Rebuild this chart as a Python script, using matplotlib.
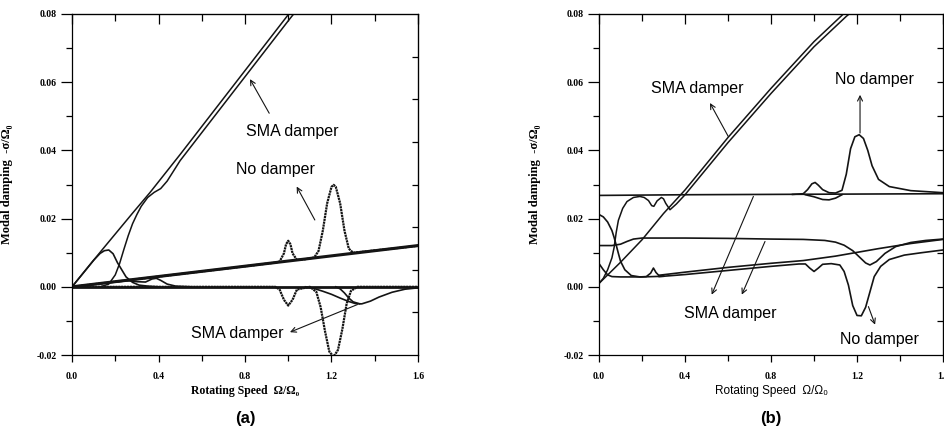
import numpy as np
import matplotlib.pyplot as plt
from matplotlib.ticker import MultipleLocator, FixedLocator

# ---- (a) : amortissement modal, rotor simple ----
a_sma1_x = [0, 0.14, 0.28, 0.36, 0.5, 0.7, 0.9, 1.0, 1.05]
a_sma1_y = [0, 0.0109, 0.0216, 0.0276, 0.0388, 0.0552, 0.0716, 0.0798, 0.0838]

a_sma2_x = [0.13, 0.17, 0.20, 0.22, 0.24, 0.26, 0.28, 0.30, 0.32, 0.35, 0.38, 0.41,
            0.44, 0.47, 0.5, 0.7, 0.9, 1.0, 1.06]
a_sma2_y = [0, 0.0008, 0.0035, 0.0068, 0.0110, 0.0150, 0.0185, 0.0212, 0.0236, 0.0262,
            0.0277, 0.0288, 0.0310, 0.0340, 0.0370, 0.0534, 0.0698, 0.0780, 0.0828]

a_hump_x = [0, 0.05, 0.10, 0.13, 0.15, 0.17, 0.19, 0.21, 0.23, 0.25, 0.28, 0.31, 0.35, 0.40]
a_hump_y = [0, 0.0039, 0.0078, 0.0098, 0.0106, 0.0108, 0.0097, 0.0071, 0.0050, 0.0029,
            0.0013, 0.0005, 0.0002, 0]

a_nod_x = [0, 0.4, 0.8, 0.94, 0.96, 0.98, 0.99, 1.0, 1.01, 1.02, 1.04, 1.08, 1.12, 1.14,
           1.16, 1.18, 1.20, 1.21, 1.22, 1.24, 1.26, 1.28, 1.30, 1.6]
a_nod_y = [0, 0.0030, 0.0060, 0.0071, 0.0074, 0.0098, 0.0125, 0.0135, 0.0125, 0.0098,
           0.0079, 0.0081, 0.0086, 0.0105, 0.0165, 0.0245, 0.0293, 0.0299, 0.0293, 0.0245,
           0.0165, 0.0112, 0.0100, 0.0120]

a_rise_x = [0, 1.6]
a_rise_y = [0, 0.0121]

a_base_x = [0, 1.6]
a_base_y = [0, 0]

a_dip_x = [0, 0.94, 0.96, 0.98, 1.0, 1.02, 1.04, 1.1, 1.13, 1.15, 1.17, 1.19, 1.21, 1.23,
           1.25, 1.27, 1.29, 1.32, 1.6]
a_dip_y = [0, 0, -0.0008, -0.0038, -0.0055, -0.0038, -0.0008, 0, -0.0015, -0.0060, -0.0130,
           -0.0190, -0.0205, -0.0185, -0.0125, -0.0050, -0.0012, 0, 0]

a_low1_x = [1.08, 1.12, 1.16, 1.2, 1.24, 1.28, 1.31, 1.34, 1.38, 1.42, 1.48, 1.54, 1.6]
a_low1_y = [0, -0.0005, -0.0013, -0.0022, -0.0033, -0.0043, -0.0049, -0.0050, -0.0042,
            -0.0030, -0.0016, -0.0007, -0.0003]

a_low2_x = [1.22, 1.24, 1.26, 1.28, 1.30, 1.33]
a_low2_y = [0, -0.0006, -0.0018, -0.0033, -0.0044, -0.0050]

a_small_x = [0, 0.1, 0.2, 0.26, 0.3, 0.34, 0.37, 0.39, 0.41, 0.44, 0.48, 0.55]
a_small_y = [0, 0.0007, 0.0014, 0.0018, 0.0015, 0.0014, 0.0023, 0.0025, 0.0019, 0.0008,
             0.0002, 0]

# ---- (b) ----
b_top_x = [0, 0.4, 0.8, 1.2, 1.6]
b_top_y = [0.0268, 0.0270, 0.0271, 0.0272, 0.0273]

b_peak_x = [0.9, 0.95, 0.97, 0.99, 1.005, 1.02, 1.04, 1.07, 1.10, 1.13, 1.15, 1.17, 1.19,
            1.21, 1.23, 1.25, 1.27, 1.30, 1.35, 1.45, 1.6]
b_peak_y = [0.0271, 0.0273, 0.0285, 0.0302, 0.0306, 0.0298, 0.0285, 0.0276, 0.0275, 0.0283,
            0.0330, 0.0405, 0.0440, 0.0446, 0.0435, 0.0400, 0.0355, 0.0315, 0.0294, 0.0282,
            0.0276]

b_under_x = [0.96, 1.0, 1.04, 1.07, 1.1, 1.13]
b_under_y = [0.0270, 0.0264, 0.0256, 0.0255, 0.0260, 0.0270]

b_diag_x = [0, 0.1, 0.2, 0.3, 0.4, 0.6, 0.8, 1.0, 1.15, 1.2]
b_diag_y = [0.001, 0.0072, 0.0138, 0.0215, 0.0284, 0.0438, 0.0582, 0.0719, 0.0808, 0.0834]

b_plat_x = [0.0, 0.02, 0.04, 0.06, 0.07, 0.08, 0.09, 0.11, 0.13, 0.16, 0.19, 0.21, 0.23,
            0.245, 0.255, 0.27, 0.29, 0.30, 0.31, 0.33, 0.36, 0.4, 0.6, 0.8, 1.0, 1.15, 1.2]
b_plat_y = [0.001, 0.0025, 0.005, 0.0085, 0.0115, 0.0160, 0.0195, 0.0230, 0.0250, 0.0262,
            0.0265, 0.0262, 0.0253, 0.0238, 0.0236, 0.0252, 0.0262, 0.0258, 0.0245, 0.0226,
            0.0243, 0.0270, 0.0423, 0.0567, 0.0704, 0.0793, 0.0819]

b_fall_x = [0, 0.02, 0.04, 0.06, 0.07, 0.08, 0.09, 0.10, 0.12, 0.15, 0.19, 0.22, 0.24,
            0.253, 0.265, 0.28, 0.3]
b_fall_y = [0.0212, 0.0205, 0.0190, 0.0165, 0.0145, 0.0122, 0.0098, 0.0075, 0.0050, 0.0033,
            0.0029, 0.0030, 0.0040, 0.0055, 0.0042, 0.0032, 0.0033]

b_left_x = [0, 0.02, 0.04, 0.06, 0.1, 0.15, 0.2, 0.3]
b_left_y = [0.0068, 0.0050, 0.0035, 0.0030, 0.0029, 0.0029, 0.0029, 0.0031]

b_mid_x = [0, 0.06, 0.1, 0.13, 0.16, 0.2, 0.4, 0.6, 0.8, 0.95, 1.05, 1.1, 1.14, 1.18,
           1.21, 1.24, 1.26, 1.29, 1.33, 1.38, 1.45, 1.52, 1.6]
b_mid_y = [0.0121, 0.0121, 0.0125, 0.0133, 0.0140, 0.0143, 0.0143, 0.0142, 0.0140, 0.0139,
           0.0136, 0.0131, 0.0122, 0.0106, 0.0088, 0.0070, 0.0064, 0.0074, 0.0098, 0.0118,
           0.0130, 0.0136, 0.0140]

b_up_x = [0.28, 0.4, 0.6, 0.8, 0.95, 1.1, 1.3, 1.45, 1.6]
b_up_y = [0.0034, 0.0043, 0.0057, 0.0069, 0.0077, 0.0090, 0.0112, 0.0127, 0.0139]

b_low_x = [0.28, 0.4, 0.6, 0.8, 0.93, 0.96, 0.98, 1.0, 1.02, 1.04, 1.08, 1.12, 1.14, 1.16,
           1.18, 1.2, 1.22, 1.24, 1.26, 1.28, 1.31, 1.35, 1.42, 1.5, 1.6]
b_low_y = [0.0030, 0.0036, 0.0048, 0.0060, 0.0067, 0.0067, 0.0055, 0.0045, 0.0055, 0.0066,
           0.0068, 0.0064, 0.0045, 0.0005, -0.0055, -0.0084, -0.0085, -0.0060, -0.0015,
           0.0030, 0.0060, 0.0080, 0.0093, 0.0100, 0.0108]

x_ticks = [0.0, 0.4, 0.8, 1.2, 1.6]
y_ticks = [-0.02, 0.00, 0.02, 0.04, 0.06, 0.08]

serif = ['Liberation Serif', 'DejaVu Serif']
sans = ['Liberation Sans', 'DejaVu Sans']
ink = '#141414'

fig = plt.figure(figsize=(9.45, 4.43), dpi=100)
ax1 = fig.add_axes([0.0762, 0.1986, 0.3661, 0.7698])
ax2 = fig.add_axes([0.6339, 0.1986, 0.3640, 0.7698])


def habillage(ax, right_ticks, xlab_sans):
    ax.set_xlim(0, 1.6)
    ax.set_ylim(-0.02, 0.08)
    ax.set_xticks(x_ticks)
    ax.set_xticklabels(['%.1f' % v for v in x_ticks])
    ax.set_yticks(y_ticks)
    ax.set_yticklabels(['%.2f' % v for v in y_ticks])
    ax.xaxis.set_minor_locator(MultipleLocator(0.2))
    ax.yaxis.set_minor_locator(MultipleLocator(0.01))
    ax.tick_params(axis='y', which='major', direction='out', length=8, width=0.9, pad=3)
    ax.tick_params(axis='y', which='minor', direction='out', length=4.3, width=0.9)
    ax.tick_params(axis='x', which='major', direction='out', length=5, width=0.9, pad=7)
    ax.tick_params(axis='x', which='minor', direction='out', length=4, width=0.9)
    for lab in ax.get_xticklabels() + ax.get_yticklabels():
        lab.set_family(serif)
        lab.set_weight('bold')
        lab.set_fontsize(7)
    for sp in ax.spines.values():
        sp.set_linewidth(0.9)
    # graduations interieures en haut et a droite
    top = ax.secondary_xaxis('top')
    top.xaxis.set_major_locator(MultipleLocator(0.4))
    top.xaxis.set_minor_locator(MultipleLocator(0.2))
    top.tick_params(which='major', direction='in', length=7, width=0.9, labeltop=False)
    top.tick_params(which='minor', direction='in', length=5, width=0.9)
    rgt = ax.secondary_yaxis('right')
    rgt.yaxis.set_major_locator(FixedLocator(right_ticks))
    rgt.yaxis.set_minor_locator(FixedLocator([]))
    rgt.tick_params(which='major', direction='in', length=4, width=0.9, labelright=False)
    ax.set_ylabel('Modal damping  -σ/Ω₀', family=serif, weight='bold', fontsize=9)
    ax.yaxis.set_label_coords(-0.17, 0.5)
    if xlab_sans:
        ax.set_xlabel('Rotating Speed  Ω/Ω₀', family=sans, fontsize=8.5)
    else:
        ax.set_xlabel('Rotating Speed  Ω/Ω₀', family=serif, weight='bold', fontsize=8.5)
    ax.xaxis.label.set_va('center')
    ax.xaxis.set_label_coords(0.5, -0.106)


def fleche(ax, tete, queue):
    ax.annotate('', xy=tete, xytext=queue,
                arrowprops=dict(arrowstyle='->', lw=0.8, color=ink, mutation_scale=9,
                                shrinkA=0, shrinkB=0))


# --- panneau (a)
lw = 1.2
ax1.plot(a_sma1_x, a_sma1_y, color=ink, lw=1.1)
ax1.plot(a_sma2_x, a_sma2_y, color=ink, lw=1.1)
ax1.plot(a_hump_x, a_hump_y, color=ink, lw=lw)
ax1.plot(a_rise_x, a_rise_y, color=ink, lw=2.2)
ax1.plot(a_nod_x, a_nod_y, color=ink, lw=1.6, ls=(0, (1.0, 0.3)))
ax1.plot(a_base_x, a_base_y, color=ink, lw=2.0)
ax1.plot(a_dip_x, a_dip_y, color=ink, lw=1.6, ls=(0, (1.0, 0.3)))
ax1.plot(a_low1_x, a_low1_y, color=ink, lw=lw)
ax1.plot(a_low2_x, a_low2_y, color=ink, lw=lw)
ax1.plot(a_small_x, a_small_y, color=ink, lw=lw)
habillage(ax1, np.arange(-0.0075, 0.08, 0.0125), False)

ax1.text(1.019, 0.0455, 'SMA damper', family=sans, fontsize=11.5, ha='center', va='center')
fleche(ax1, (0.823, 0.0609), (0.912, 0.0509))
ax1.text(0.943, 0.0343, 'No damper', family=sans, fontsize=11.5, ha='center', va='center')
fleche(ax1, (1.039, 0.0294), (1.123, 0.0196))
ax1.text(0.765, -0.0136, 'SMA damper', family=sans, fontsize=11.5, ha='center', va='center')
fleche(ax1, (1.008, -0.0133), (1.32, -0.0052))

# --- panneau (b)
ax2.plot(b_top_x, b_top_y, color=ink, lw=lw)
ax2.plot(b_peak_x, b_peak_y, color=ink, lw=lw)
ax2.plot(b_under_x, b_under_y, color=ink, lw=lw)
ax2.plot(b_diag_x, b_diag_y, color=ink, lw=1.1)
ax2.plot(b_plat_x, b_plat_y, color=ink, lw=1.1)
ax2.plot(b_fall_x, b_fall_y, color=ink, lw=lw)
ax2.plot(b_left_x, b_left_y, color=ink, lw=lw)
ax2.plot(b_mid_x, b_mid_y, color=ink, lw=lw)
ax2.plot(b_up_x, b_up_y, color=ink, lw=lw)
ax2.plot(b_low_x, b_low_y, color=ink, lw=lw)
habillage(ax2, np.arange(-0.01, 0.08, 0.01), True)

ax2.text(0.458, 0.0582, 'SMA damper', family=sans, fontsize=11.5, ha='center', va='center')
fleche(ax2, (0.516, 0.0539), (0.601, 0.0441))
ax2.text(1.279, 0.0607, 'No damper', family=sans, fontsize=11.5, ha='center', va='center')
fleche(ax2, (1.214, 0.0563), (1.214, 0.0451))
ax2.text(0.612, -0.0078, 'SMA damper', family=sans, fontsize=11.5, ha='center', va='center')
fleche(ax2, (0.524, -0.0023), (0.718, 0.0265))
fleche(ax2, (0.664, -0.0023), (0.772, 0.0133))
ax2.text(1.302, -0.0155, 'No damper', family=sans, fontsize=11.5, ha='center', va='center')
fleche(ax2, (1.284, -0.0111), (1.253, -0.0058))

fig.text(245 / 945, 1 - 418 / 443, '(a)', family=sans, weight='bold', fontsize=12,
         ha='center', va='center')
fig.text(771 / 945, 1 - 418 / 443, '(b)', family=sans, weight='bold', fontsize=12,
         ha='center', va='center')

fig.savefig('out.png', dpi=100)
